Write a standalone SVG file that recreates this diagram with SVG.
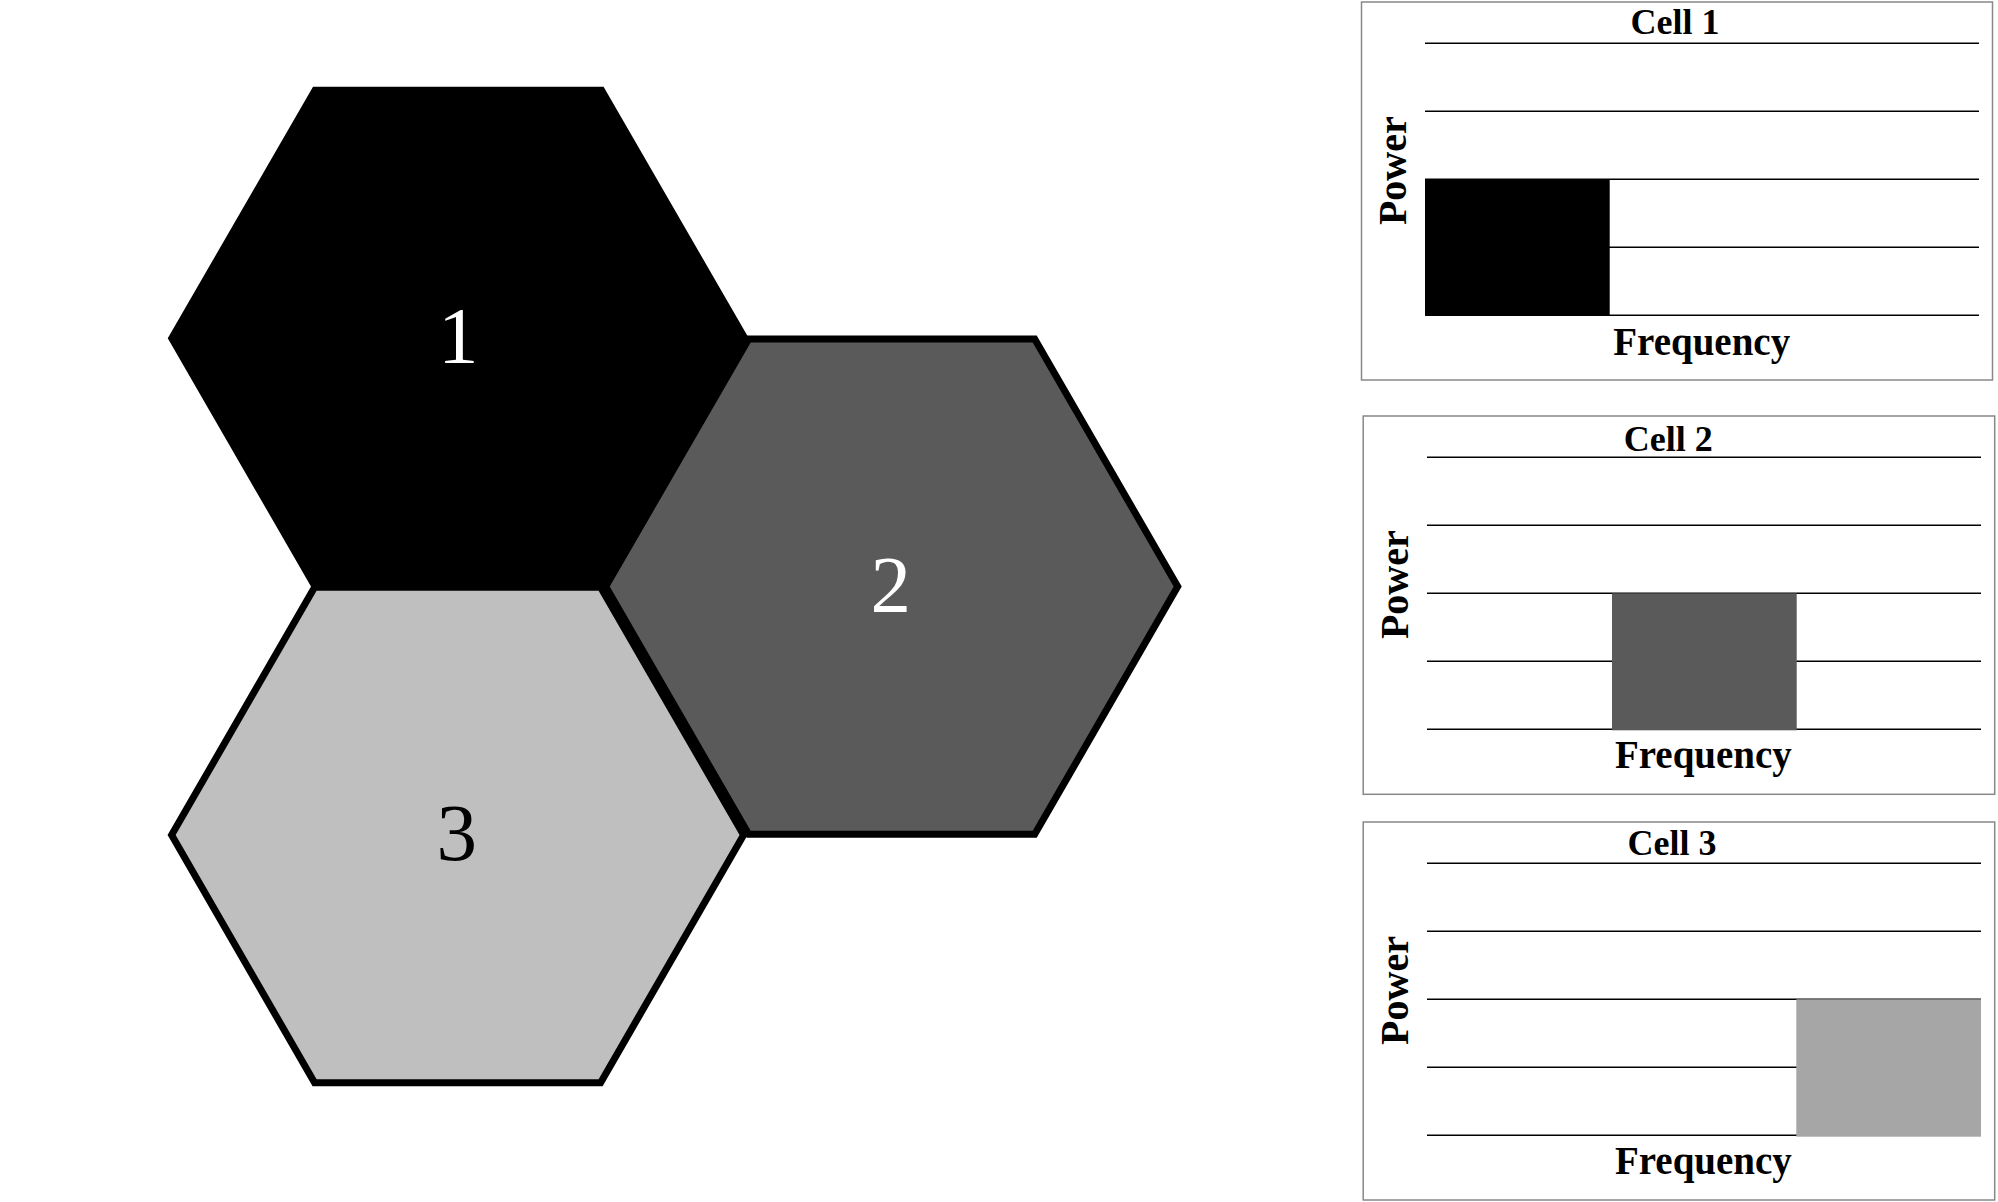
<svg xmlns="http://www.w3.org/2000/svg" width="1998" height="1202" viewBox="0 0 1998 1202">
<style>
.hex{stroke:#000;stroke-width:7;stroke-linejoin:miter}
.num{font-family:"Liberation Serif","Times New Roman",serif;font-size:81px;text-anchor:middle}
.box{fill:#fff;stroke:#888;stroke-width:1.5}
.grid{stroke:#000;stroke-width:1.5}
.t{font-family:"Liberation Serif","Times New Roman",serif;font-weight:bold;text-anchor:middle;fill:#000}
.title{font-size:36px}
.ax{font-size:40px}
.fq{font-size:39px}
</style>
<rect width="1998" height="1202" fill="#fff"/>
<g id="hex1">
<polygon class="hex" fill="#000" points="171.8,338.3 315.05,90.2 601.55,90.2 744.8,338.3 601.55,586.4 315.05,586.4"/>
<text class="num" x="458.3" y="363.3" fill="#fff">1</text>
</g>
<g id="hex3">
<polygon class="hex" fill="#bfbfbf" points="171.6,835 314.6,587.3 600.6,587.3 743.6,835 600.6,1082.7 314.6,1082.7"/>
<text class="num" x="456.7" y="860" fill="#000">3</text>
</g>
<g id="hex2">
<polygon class="hex" fill="#5a5a5a" points="605.7,586.6 748.7,338.9 1034.7,338.9 1177.7,586.6 1034.7,834.3 748.7,834.3"/>
<text class="num" x="890.8" y="612.3" fill="#fff">2</text>
</g>
<g id="chart1">
<rect class="box" x="1361.5" y="2" width="631" height="378"/>
<g class="grid">
<line x1="1425" y1="43.3" x2="1979" y2="43.3"/>
<line x1="1425" y1="111.3" x2="1979" y2="111.3"/>
<line x1="1425" y1="179.3" x2="1979" y2="179.3"/>
<line x1="1425" y1="247.3" x2="1979" y2="247.3"/>
<line x1="1425" y1="315.3" x2="1979" y2="315.3"/>
</g>
<rect x="1425" y="179.3" width="184.7" height="136" fill="#000"/>
<text class="t title" x="1675" y="34.3">Cell 1</text>
<text class="t ax" x="1406" y="170.7" transform="rotate(-90 1406 170.7)">Power</text>
<text class="t fq" x="1701.7" y="355">Frequency</text>
</g>
<g id="chart2">
<rect class="box" x="1363.2" y="416" width="631.5" height="378.3"/>
<g class="grid">
<line x1="1427" y1="457.3" x2="1981" y2="457.3"/>
<line x1="1427" y1="525.3" x2="1981" y2="525.3"/>
<line x1="1427" y1="593.3" x2="1981" y2="593.3"/>
<line x1="1427" y1="661.3" x2="1981" y2="661.3"/>
<line x1="1427" y1="729.3" x2="1981" y2="729.3"/>
</g>
<rect x="1612" y="593.3" width="184.7" height="137" fill="#5a5a5a"/>
<text class="t title" x="1668.3" y="450.7">Cell 2</text>
<text class="t ax" x="1408" y="584.7" transform="rotate(-90 1408 584.7)">Power</text>
<text class="t fq" x="1703.4" y="768.3">Frequency</text>
</g>
<g id="chart3">
<rect class="box" x="1363.2" y="822" width="631.5" height="378"/>
<g class="grid">
<line x1="1427" y1="863.3" x2="1981" y2="863.3"/>
<line x1="1427" y1="931.3" x2="1981" y2="931.3"/>
<line x1="1427" y1="999.3" x2="1981" y2="999.3"/>
<line x1="1427" y1="1067.3" x2="1981" y2="1067.3"/>
<line x1="1427" y1="1135.3" x2="1981" y2="1135.3"/>
</g>
<rect x="1796.3" y="999.3" width="184.7" height="137.4" fill="#a6a6a6"/>
<text class="t title" x="1672" y="855.3">Cell 3</text>
<text class="t ax" x="1408" y="990.5" transform="rotate(-90 1408 990.5)">Power</text>
<text class="t fq" x="1703.4" y="1174.3">Frequency</text>
</g>
</svg>
